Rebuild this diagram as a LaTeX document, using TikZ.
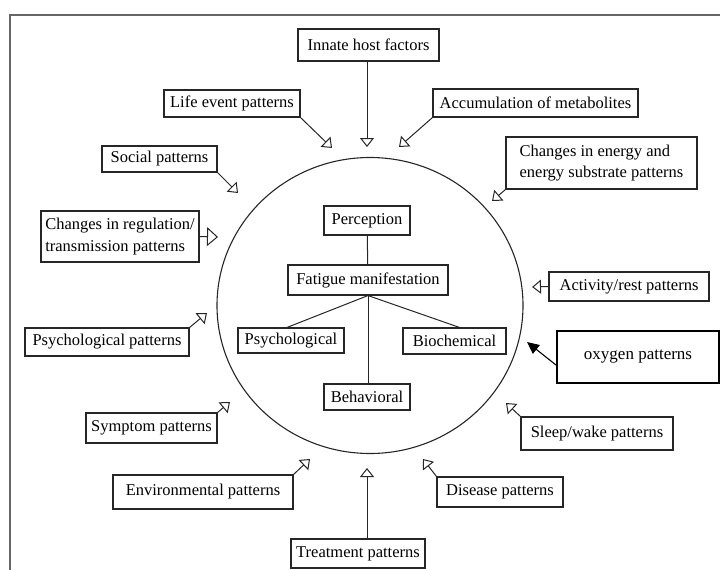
\documentclass[tikz,border=0pt]{standalone}
\usepackage{fontspec}
\setmainfont{Liberation Serif}
\usetikzlibrary{arrows.meta,calc}
\begin{document}
\begin{tikzpicture}[x=1pt,y=-1pt,
  box/.style={draw=black!85, line width=1.1pt, inner sep=0pt, text=black,
    font=\fontsize{16.5}{21.5}\selectfont},
  inflow/.style={draw=black!85, line width=1pt, -{Triangle[open,length=9pt,width=14pt]}},
  bigflow/.style={draw=black!85, line width=1pt, -{Triangle[open,length=11pt,width=19pt]}},
  solidflow/.style={draw=black, line width=1.1pt, -{Triangle[length=12pt,width=11pt]}},
  link/.style={draw=black!85, line width=1pt}]
\useasboundingbox (0,0) rectangle (720,570);
% frame
\draw[black!60, line width=1.2pt] (10,575) -- (10,15) -- (725,15);
% central circle
\coordinate (c) at (370,305.5);
\draw[black!85, line width=1.1pt] (c) ellipse [x radius=153, y radius=148];
% inner nodes
\node[box, minimum width=86pt, minimum height=29pt] (perception) at (367,220.5) {Perception};
\node[box, minimum width=160pt, minimum height=30pt] (fatigue) at (368,280) {Fatigue manifestation};
\node[box, minimum width=106pt, minimum height=25pt] (psych) at (291,340.5) {Psychological};
\node[box, minimum width=103pt, minimum height=26pt] (biochem) at (454.5,341) {Biochemical};
\node[box, minimum width=86pt, minimum height=26pt] (behav) at (367,397) {Behavioral};
\draw[link] (perception) -- (fatigue);
\draw[link] (fatigue.south) -- ([xshift=-4pt]psych.north);
\draw[link] (fatigue.south) -- ([xshift=5pt]biochem.north);
\draw[link] (fatigue.south) -- (fatigue.south |- behav.north);
% outer nodes
\node[box, minimum width=141pt, minimum height=32pt] (innate) at (368.5,45) {Innate host factors};
\node[box, minimum width=136pt, minimum height=27pt] (life) at (232,103.5) {Life event patterns};
\node[box, minimum width=205pt, minimum height=28pt] (accum) at (535.5,103) {Accumulation of metabolites};
\node[box, minimum width=115pt, minimum height=26pt] (social) at (159.5,159) {Social patterns};
\node[box, minimum width=191pt, minimum height=52pt, align=left] (energy) at (601.5,163) {Changes in energy and\\energy substrate patterns};
\node[box, minimum width=158pt, minimum height=51pt, align=left] (regul) at (120,236.5) {Changes in regulation/\\transmission patterns};
\node[box, minimum width=160pt, minimum height=29pt] (activity) at (629,286.5) {Activity/rest patterns};
\node[box, minimum width=164pt, minimum height=28pt] (psychpat) at (107,342) {Psychological patterns};
\node[box, draw=black, line width=2pt, minimum width=162pt, minimum height=52pt,
  font=\fontsize{17}{20}\selectfont] (oxygen) at (638,357) {oxygen patterns};
\node[box, minimum width=131pt, minimum height=30pt] (symptom) at (151.5,428) {Symptom patterns};
\node[box, minimum width=152pt, minimum height=33pt] (sleep) at (597,433.5) {Sleep/wake patterns};
\node[box, minimum width=180pt, minimum height=34pt] (environ) at (203,492) {Environmental patterns};
\node[box, minimum width=126pt, minimum height=30pt] (disease) at (500,492) {Disease patterns};
\node[box, minimum width=134pt, minimum height=29pt] (treat) at (358,553.5) {Treatment patterns};
% arrow end points
\coordinate (tInnate) at (367,147);
\coordinate (tLife) at (332,148);
\coordinate (tAccum) at (399,147);
\coordinate (tSocial) at (238,193);
\coordinate (tEnergy) at (492,201);
\coordinate (tRegul) at (218,237);
\coordinate (tActivity) at (532,287);
\coordinate (tPsych) at (207,313);
\coordinate (tOxygen) at (527,342);
\coordinate (tSymptom) at (230,402);
\coordinate (tEnviron) at (310,459);
\coordinate (tTreat) at (367,468);
\coordinate (tDisease) at (423,459);
\coordinate (tSleep) at (506,403);
% arrows
\draw[inflow] (innate.south -| tInnate) -- (tInnate);
\draw[inflow] (life.south east) -- (tLife);
\draw[inflow] (accum.south west) -- (tAccum);
\draw[inflow] (social.south east) -- (tSocial);
\draw[inflow] (energy.south west) -- (tEnergy);
\draw[bigflow] (regul.east) -- (tRegul);
\draw[inflow] (activity.west) -- (tActivity);
\draw[inflow] (psychpat.north east) -- (tPsych);
\draw[solidflow] ([yshift=-8pt]oxygen.west) -- (tOxygen);
\draw[inflow] (symptom.north east) -- (tSymptom);
\draw[inflow] (environ.north east) -- (tEnviron);
\draw[inflow] (treat.north -| tTreat) -- (tTreat);
\draw[inflow] (disease.north west) -- (tDisease);
\draw[inflow] (sleep.north west) -- (tSleep);
\end{tikzpicture}
\end{document}
